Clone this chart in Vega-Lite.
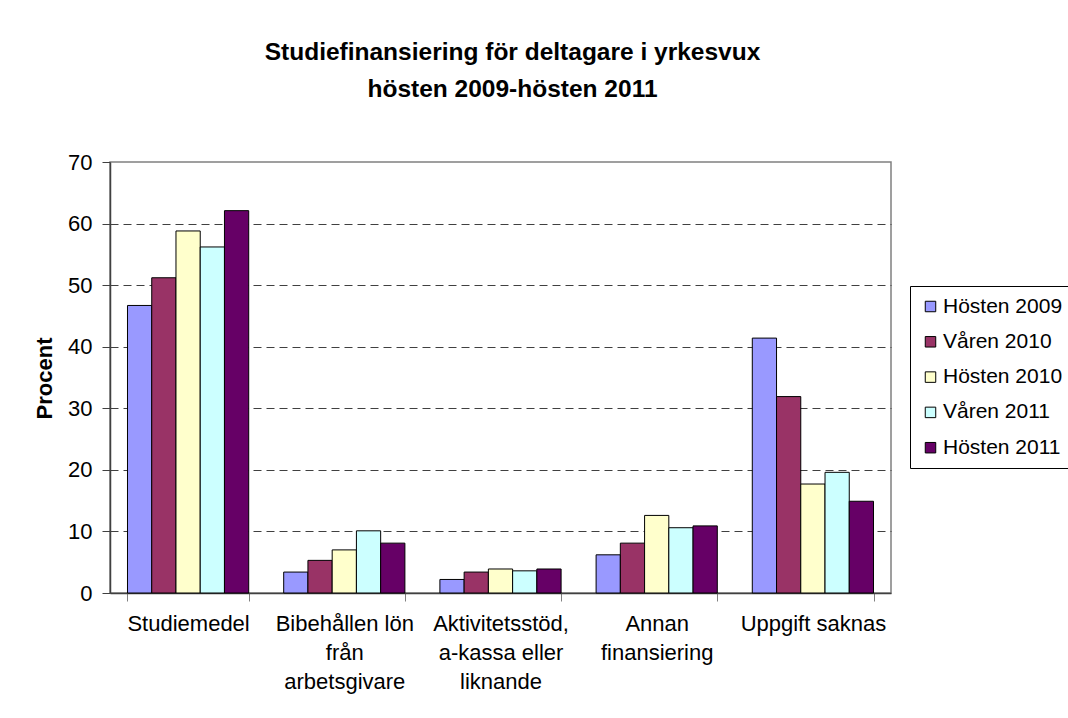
{
  "$schema": "https://vega.github.io/schema/vega-lite/v6.json",
  "width": 781,
  "height": 431,
  "autosize": {"type": "none"},
  "padding": {"left": 110, "top": 162, "right": 177, "bottom": 125},
  "background": "white",
  "title": {
    "text": ["Studiefinansiering för deltagare i yrkesvux", "hösten 2009-hösten 2011"],
    "font": "Liberation Sans",
    "fontSize": 24.5,
    "fontWeight": "bold",
    "lineHeight": 37,
    "color": "black",
    "anchor": "middle",
    "dx": 12,
    "offset": 49
  },
  "data": {
    "values": [
      {"kategori": "Studiemedel", "period": "Hösten 2009", "procent": 46.7},
      {"kategori": "Studiemedel", "period": "Våren 2010", "procent": 51.2},
      {"kategori": "Studiemedel", "period": "Hösten 2010", "procent": 58.8},
      {"kategori": "Studiemedel", "period": "Våren 2011", "procent": 56.2},
      {"kategori": "Studiemedel", "period": "Hösten 2011", "procent": 62.1},
      {"kategori": "Bibehållen lön|från|arbetsgivare", "period": "Hösten 2009", "procent": 3.4},
      {"kategori": "Bibehållen lön|från|arbetsgivare", "period": "Våren 2010", "procent": 5.3},
      {"kategori": "Bibehållen lön|från|arbetsgivare", "period": "Hösten 2010", "procent": 7.0},
      {"kategori": "Bibehållen lön|från|arbetsgivare", "period": "Våren 2011", "procent": 10.1},
      {"kategori": "Bibehållen lön|från|arbetsgivare", "period": "Hösten 2011", "procent": 8.1},
      {"kategori": "Aktivitetsstöd,|a-kassa eller|liknande", "period": "Hösten 2009", "procent": 2.2},
      {"kategori": "Aktivitetsstöd,|a-kassa eller|liknande", "period": "Våren 2010", "procent": 3.4},
      {"kategori": "Aktivitetsstöd,|a-kassa eller|liknande", "period": "Hösten 2010", "procent": 3.9},
      {"kategori": "Aktivitetsstöd,|a-kassa eller|liknande", "period": "Våren 2011", "procent": 3.6},
      {"kategori": "Aktivitetsstöd,|a-kassa eller|liknande", "period": "Hösten 2011", "procent": 3.9},
      {"kategori": "Annan|finansiering", "period": "Hösten 2009", "procent": 6.2},
      {"kategori": "Annan|finansiering", "period": "Våren 2010", "procent": 8.1},
      {"kategori": "Annan|finansiering", "period": "Hösten 2010", "procent": 12.6},
      {"kategori": "Annan|finansiering", "period": "Våren 2011", "procent": 10.6},
      {"kategori": "Annan|finansiering", "period": "Hösten 2011", "procent": 10.9},
      {"kategori": "Uppgift saknas", "period": "Hösten 2009", "procent": 41.4},
      {"kategori": "Uppgift saknas", "period": "Våren 2010", "procent": 31.9},
      {"kategori": "Uppgift saknas", "period": "Hösten 2010", "procent": 17.7},
      {"kategori": "Uppgift saknas", "period": "Våren 2011", "procent": 19.6},
      {"kategori": "Uppgift saknas", "period": "Hösten 2011", "procent": 14.9}
    ]
  },
  "mark": {"type": "bar", "stroke": "black", "strokeWidth": 1},
  "encoding": {
    "x": {
      "field": "kategori",
      "type": "nominal",
      "sort": null,
      "scale": {"paddingInner": 0.224, "paddingOuter": 0.112},
      "axis": {
        "title": null,
        "labelAngle": 0,
        "labelExpr": "split(datum.label, '|')",
        "labelFont": "Liberation Sans",
        "labelFontSize": 22,
        "labelColor": "black",
        "labelLineHeight": 29,
        "labelBaseline": "top",
        "labelPadding": 12,
        "labelLimit": 300,
        "tickBand": "extent",
        "tickSize": 8,
        "tickColor": "#808080",
        "domainColor": "#404040",
        "domainWidth": 1.5
      }
    },
    "xOffset": {
      "field": "period",
      "type": "nominal",
      "sort": ["Hösten 2009", "Våren 2010", "Hösten 2010", "Våren 2011", "Hösten 2011"],
      "scale": {"paddingInner": 0, "paddingOuter": 0}
    },
    "y": {
      "field": "procent",
      "type": "quantitative",
      "scale": {"domain": [0, 70], "nice": false},
      "axis": {
        "values": [0, 10, 20, 30, 40, 50, 60, 70],
        "title": "Procent",
        "titleFont": "Liberation Sans",
        "titleFontSize": 22,
        "titleFontWeight": "bold",
        "titleColor": "black",
        "titleAngle": 270,
        "titleAlign": "center",
        "titleBaseline": "middle",
        "titleX": -66,
        "titleY": 216,
        "labelFont": "Liberation Sans",
        "labelFontSize": 22,
        "labelColor": "black",
        "labelPadding": 10,
        "tickSize": 8,
        "tickColor": "#404040",
        "domainColor": "#404040",
        "domainWidth": 1.5,
        "grid": true,
        "gridColor": "#404040",
        "gridDash": [8, 5],
        "gridOpacity": {"condition": {"test": "datum.value == 0 || datum.value == 70", "value": 0}, "value": 1}
      }
    },
    "color": {
      "field": "period",
      "type": "nominal",
      "scale": {
        "domain": ["Hösten 2009", "Våren 2010", "Hösten 2010", "Våren 2011", "Hösten 2011"],
        "range": ["#9999FF", "#993366", "#FFFFCC", "#CCFFFF", "#660066"]
      },
      "legend": {
        "title": null,
        "orient": "none",
        "legendX": 800,
        "legendY": 124,
        "padding": 10,
        "strokeColor": "black",
        "fillColor": "white",
        "symbolType": "square",
        "symbolSize": 110,
        "symbolStrokeColor": "black",
        "symbolStrokeWidth": 1,
        "symbolOpacity": 1,
        "labelFont": "Liberation Sans",
        "labelFontSize": 21,
        "labelColor": "black",
        "labelOffset": 2,
        "labelLimit": 300,
        "rowPadding": 13.3
      }
    }
  },
  "config": {
    "view": {"stroke": "#808080", "strokeWidth": 1.5}
  }
}
